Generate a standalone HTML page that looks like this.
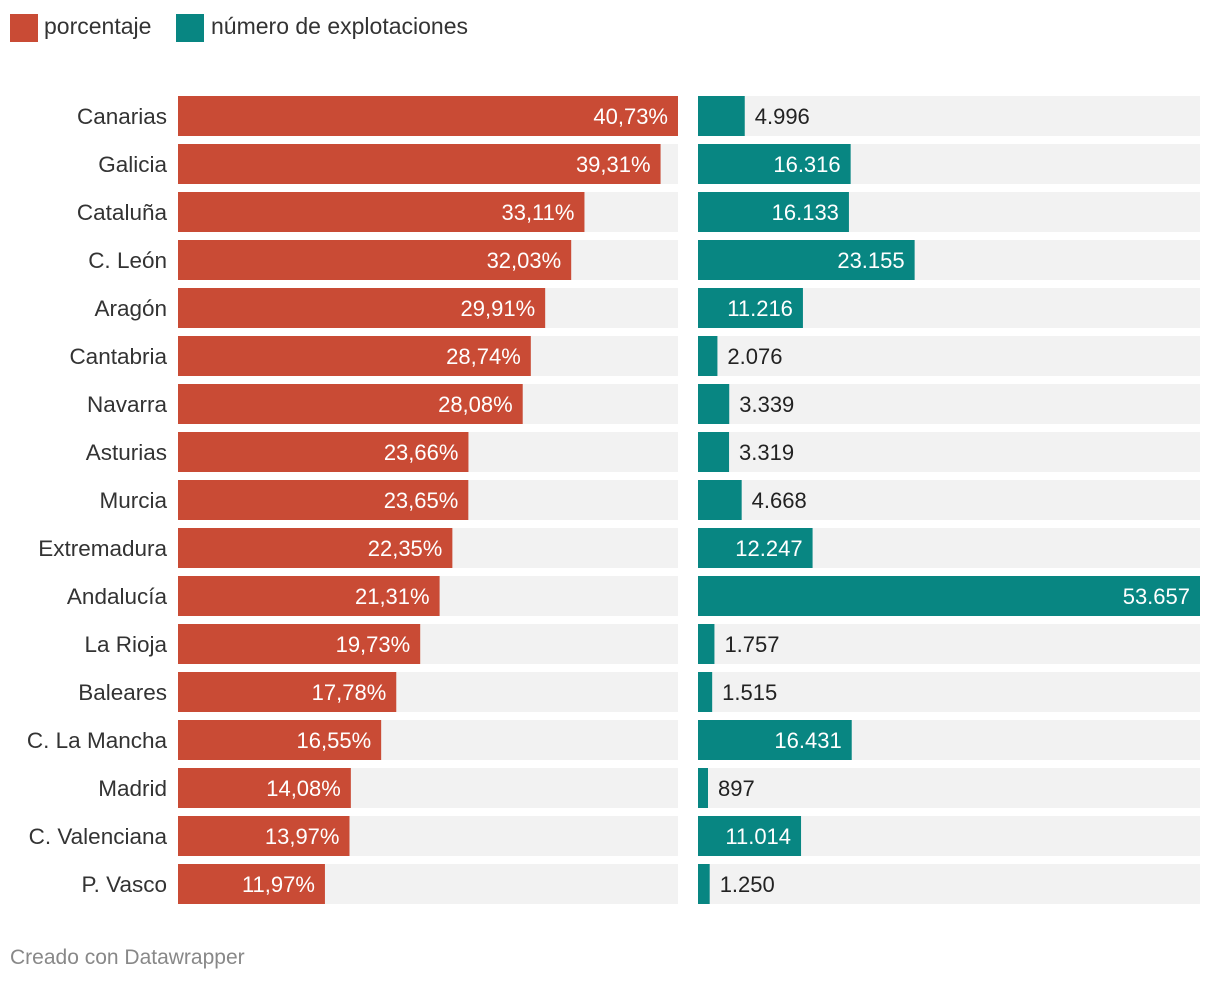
<!DOCTYPE html>
<html><head><meta charset="utf-8"><style>
body{margin:0;background:#fff;width:1220px;height:982px;overflow:hidden;font-family:"Liberation Sans",sans-serif}
svg text{font-family:"Liberation Sans",sans-serif}
</style></head><body>
<svg id="chart" width="1220" height="982" xmlns="http://www.w3.org/2000/svg">
<g>
<rect x="10" y="14" width="28" height="28" fill="#c94b35"/>
<text x="44" y="34" font-size="23" fill="#333">porcentaje</text>
<rect x="176" y="14" width="28" height="28" fill="#088682"/>
<text x="211" y="34" font-size="23" fill="#333">número de explotaciones</text>
</g>
<text x="10" y="964" font-size="21" fill="#888">Creado con Datawrapper</text>
</svg>
<script>
const regions=["Canarias","Galicia","Cataluña","C. León","Aragón","Cantabria","Navarra","Asturias","Murcia","Extremadura","Andalucía","La Rioja","Baleares","C. La Mancha","Madrid","C. Valenciana","P. Vasco"];
const pct=[40.73,39.31,33.11,32.03,29.91,28.74,28.08,23.66,23.65,22.35,21.31,19.73,17.78,16.55,14.08,13.97,11.97];
const farms=[4996,16316,16133,23155,11216,2076,3339,3319,4668,12247,53657,1757,1515,16431,897,11014,1250];
const svg=document.getElementById('chart');
const NS='http://www.w3.org/2000/svg';
function mk(tag,attrs,txt){const e=document.createElementNS(NS,tag);for(const k in attrs)e.setAttribute(k,attrs[k]);if(txt!==undefined)e.textContent=txt;svg.appendChild(e);return e;}
const top0=96,pitch=48,bh=40;
const L0=178,LW=500,R0=698,RW=502;
const pMax=Math.max(...pct),fMax=Math.max(...farms);
const xp=v=>LW*v/pMax, xf=v=>RW*v/fMax;
const fmtP=v=>v.toFixed(2).replace('.',',')+'%';
const fmtF=v=>v.toString().replace(/\B(?=(\d{3})+(?!\d))/g,'.');
regions.forEach((r,i)=>{
  const y=top0+i*pitch;
  let t=mk('text',{x:167,y:y+28,'font-size':22.5,fill:'#333','text-anchor':'end'},r);
  
  
  let bg=mk('rect',{x:L0,y:y,width:LW,height:bh,fill:'#f2f2f2'});
  
  
  const w=xp(pct[i]);
  let b=mk('rect',{x:L0,y:y,width:w,height:bh,fill:'#c94b35'});
  
  
  let lt=mk('text',{x:L0+w-10,y:y+28,'font-size':22,fill:'#fff','text-anchor':'end'},fmtP(pct[i]));
  
  
  let bg2=mk('rect',{x:R0,y:y,width:RW,height:bh,fill:'#f2f2f2'});
  
  
  const w2=Math.max(xf(farms[i]),10);
  let b2=mk('rect',{x:R0,y:y,width:w2,height:bh,fill:'#088682'});
  
  
  const inside=w2>85;
  let ft=mk('text',{x:inside?R0+w2-10:R0+w2+10,y:y+28,'font-size':22,fill:inside?'#fff':'#222','text-anchor':inside?'end':'start'},fmtF(farms[i]));
  
  
});
</script>
</body></html>
